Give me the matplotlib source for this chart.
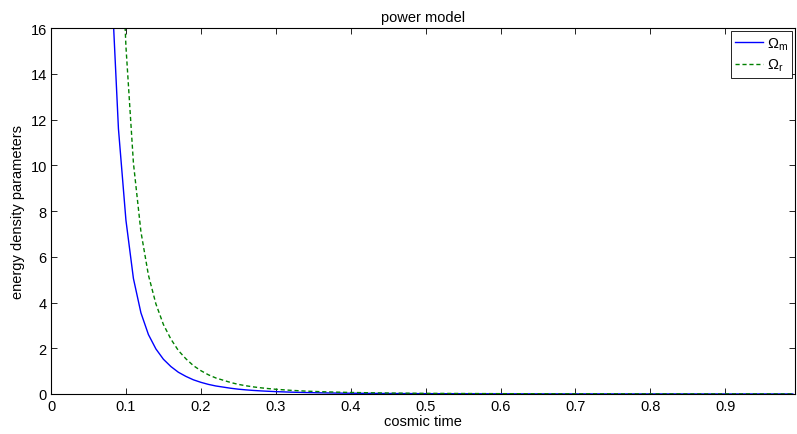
import matplotlib
matplotlib.use("Agg")
import matplotlib.pyplot as plt

plt.rcParams['font.family'] = ['Liberation Sans', 'DejaVu Sans']
plt.rcParams['mathtext.fontset'] = 'custom'
plt.rcParams['mathtext.rm'] = 'Liberation Sans'
plt.rcParams['mathtext.it'] = 'Liberation Sans'
plt.rcParams['mathtext.default'] = 'regular'

# cosmic time samples
t_m = [0.07, 0.08, 0.09, 0.10, 0.11, 0.12, 0.13, 0.14, 0.15, 0.16, 0.17, 0.18,
       0.19, 0.20, 0.21, 0.22, 0.23, 0.24, 0.25, 0.26, 0.27, 0.28, 0.29, 0.30,
       0.32, 0.34, 0.36, 0.38, 0.40, 0.45, 0.50, 0.60, 0.70, 0.80, 0.90, 0.99]
omega_m = [34.0, 18.5, 11.6, 7.6, 5.05, 3.55, 2.6, 1.97, 1.52, 1.2, 0.95, 0.77,
           0.62, 0.51, 0.42, 0.35, 0.30, 0.25, 0.21, 0.18, 0.155, 0.135, 0.118, 0.103,
           0.08, 0.063, 0.05, 0.041, 0.033, 0.021, 0.014, 0.007, 0.004, 0.0025, 0.0016, 0.0011]

t_r = [0.08, 0.09, 0.10, 0.11, 0.12, 0.13, 0.14, 0.15, 0.16, 0.17, 0.18, 0.19,
       0.20, 0.21, 0.22, 0.23, 0.24, 0.25, 0.26, 0.27, 0.28, 0.29, 0.30, 0.32,
       0.34, 0.36, 0.38, 0.40, 0.45, 0.50, 0.60, 0.70, 0.80, 0.90, 0.99]
omega_r = [37.0, 23.0, 15.2, 10.1, 7.1, 5.2, 3.94, 3.04, 2.4, 1.9, 1.54, 1.24,
           1.02, 0.84, 0.70, 0.60, 0.50, 0.42, 0.36, 0.31, 0.27, 0.236, 0.206, 0.16,
           0.126, 0.1, 0.082, 0.066, 0.042, 0.028, 0.014, 0.008, 0.005, 0.0032, 0.0022]

fs = 10.5

fig = plt.figure(figsize=(7.97, 4.35), dpi=100)
ax = fig.add_axes([0.064, 0.092, 0.9335, 0.841])

ax.plot(t_m, omega_m, color='#0000ff', lw=1.0, label=r'$\Omega_m$')
ax.plot(t_r, omega_r, color='#008000', lw=1.0, ls='--', dashes=(3, 2), label=r'$\Omega_r$')

ax.set_xlim(0, 0.993)
ax.set_ylim(0, 16)
ax.set_xticks([0, 0.1, 0.2, 0.3, 0.4, 0.5, 0.6, 0.7, 0.8, 0.9])
ax.set_xticklabels(['0', '0.1', '0.2', '0.3', '0.4', '0.5', '0.6', '0.7', '0.8', '0.9'])
ax.set_yticks(range(0, 17, 2))
ax.tick_params(direction='in', top=True, right=True, length=4, width=0.6,
               labelsize=fs)
ax.tick_params(axis='x', pad=3.5)
ax.tick_params(axis='y', pad=3)
for s in ax.spines.values():
    s.set_linewidth(0.8)

ax.set_xlabel('cosmic time', fontsize=fs, labelpad=1)
ax.set_ylabel('energy density parameters', fontsize=fs, labelpad=4)
ax.set_title('power model', fontsize=fs, pad=5)

leg = ax.legend(loc='upper right', fontsize=fs, fancybox=False, framealpha=1,
                edgecolor='black', borderpad=0.3, handlelength=1.9,
                borderaxespad=0.2, labelspacing=0.35, handletextpad=0.25)
leg.get_frame().set_linewidth(0.6)

fig.savefig('out.png', dpi=100)
